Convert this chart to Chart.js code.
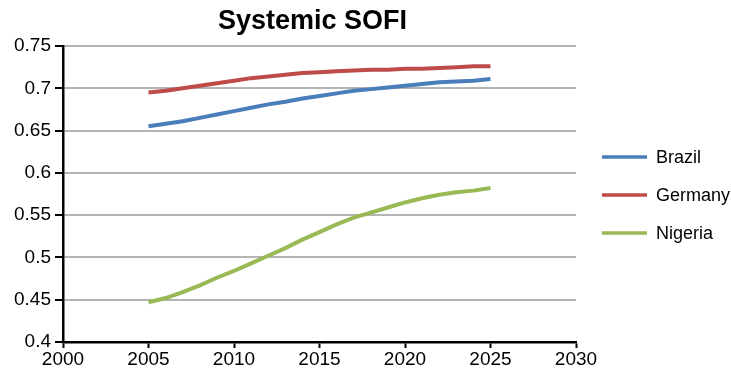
<!DOCTYPE html>
<html>
<head>
<meta charset="utf-8">
<title>Systemic SOFI</title>
<script src="https://cdn.jsdelivr.net/npm/chart.js@4/dist/chart.umd.min.js"></script>
<style>
  html, body { margin: 0; padding: 0; background: #fff; }
  #wrap { width: 731px; height: 373px; position: relative; }
</style>
</head>
<body>
<div id="wrap"><canvas id="chart" width="731" height="373"></canvas></div>
<script>
// Years covered by each projection
const years = [2005, 2006, 2007, 2008, 2009, 2010, 2011, 2012, 2013, 2014, 2015,
               2016, 2017, 2018, 2019, 2020, 2021, 2022, 2023, 2024, 2025];

// Systemic SOFI index per country
const brazil  = [0.655, 0.658, 0.661, 0.665, 0.669, 0.673, 0.677, 0.681, 0.684, 0.688, 0.691,
                 0.694, 0.697, 0.699, 0.701, 0.703, 0.705, 0.707, 0.708, 0.709, 0.711];
const germany = [0.695, 0.697, 0.700, 0.703, 0.706, 0.709, 0.712, 0.714, 0.716, 0.718, 0.719,
                 0.720, 0.721, 0.722, 0.722, 0.723, 0.723, 0.724, 0.725, 0.726, 0.726];
const nigeria = [0.447, 0.452, 0.459, 0.467, 0.476, 0.484, 0.493, 0.502, 0.511, 0.521, 0.530,
                 0.539, 0.547, 0.553, 0.559, 0.565, 0.570, 0.574, 0.577, 0.579, 0.582];

const seriesNames = ['Brazil', 'Germany', 'Nigeria'];
const seriesColors = ['#4a7ebb', '#be4b48', '#98b954'];

// Axis ranges and tick steps
const xMin = 2000, xMax = 2030, xStep = 5;
const yMin = 0.4, yMax = 0.75, yStep = 0.05;

const chartTitle = 'Systemic SOFI';
const FONT = '"Liberation Sans", Arial, Helvetica, sans-serif';

const toPoints = vals => vals.map((v, i) => ({ x: years[i], y: v }));

// Title centred over the plot area
const titlePlugin = {
  id: 'plotTitle',
  afterDraw(chart) {
    const { ctx, chartArea } = chart;
    ctx.save();
    ctx.font = 'bold 27px ' + FONT;
    ctx.fillStyle = '#000';
    ctx.textAlign = 'center';
    ctx.textBaseline = 'middle';
    ctx.fillText(chartTitle, (chartArea.left + chartArea.right) / 2 - 7, 22);
    ctx.restore();
  }
};

// Legend to the right of the plot: a line sample followed by the series name
const sideLegend = {
  id: 'sideLegend',
  afterDraw(chart) {
    const { ctx, chartArea } = chart;
    ctx.save();
    ctx.font = '18px ' + FONT;
    ctx.textBaseline = 'middle';
    chart.data.datasets.forEach((ds, i) => {
      const y = 157 + i * 38;
      const x0 = chartArea.right + 26;
      ctx.strokeStyle = ds.borderColor;
      ctx.lineWidth = 3.5;
      ctx.beginPath();
      ctx.moveTo(x0, y);
      ctx.lineTo(x0 + 45, y);
      ctx.stroke();
      ctx.fillStyle = '#000';
      ctx.fillText(ds.label, x0 + 54, y + 1);
    });
    ctx.restore();
  }
};

new Chart(document.getElementById('chart'), {
  type: 'line',
  data: {
    datasets: [brazil, germany, nigeria].map((vals, i) => ({
      label: seriesNames[i],
      data: toPoints(vals),
      borderColor: seriesColors[i],
      backgroundColor: seriesColors[i],
      borderWidth: 4,
      pointRadius: 0,
      tension: 0,
      fill: false
    }))
  },
  options: {
    responsive: false,
    animation: false,
    layout: { padding: { left: 0, right: 155, top: 46, bottom: 0 } },
    plugins: {
      legend: { display: false },
      title: { display: false },
      tooltip: { enabled: false }
    },
    scales: {
      x: {
        type: 'linear',
        min: xMin,
        max: xMax,
        afterFit: s => { s.height = 31; },
        afterBuildTicks: s => {
          const t = [];
          for (let v = xMin; v <= xMax; v += xStep) t.push({ value: v });
          s.ticks = t;
        },
        ticks: {
          color: '#000',
          font: { family: FONT, size: 19 },
          padding: 0,
          maxRotation: 0,
          callback: v => String(v)
        },
        grid: {
          drawOnChartArea: false,
          drawTicks: true,
          tickLength: 6,
          tickColor: '#000',
          tickWidth: 2
        },
        border: { color: '#000', width: 2.5 }
      },
      y: {
        min: yMin,
        max: yMax,
        afterFit: s => { s.width = 63; },
        afterBuildTicks: s => {
          const t = [];
          for (let k = 0; k <= Math.round((yMax - yMin) / yStep); k++) {
            t.push({ value: +(yMin + k * yStep).toFixed(2) });
          }
          s.ticks = t;
        },
        ticks: {
          color: '#000',
          font: { family: FONT, size: 19 },
          padding: 4,
          callback: v => String(+(+v).toFixed(2))
        },
        grid: {
          color: '#b4b4b4',
          lineWidth: 2,
          tickLength: 8,
          tickColor: '#000',
          tickWidth: 2
        },
        border: { color: '#000', width: 2.5 }
      }
    }
  },
  plugins: [titlePlugin, sideLegend]
});
</script>
</body>
</html>
